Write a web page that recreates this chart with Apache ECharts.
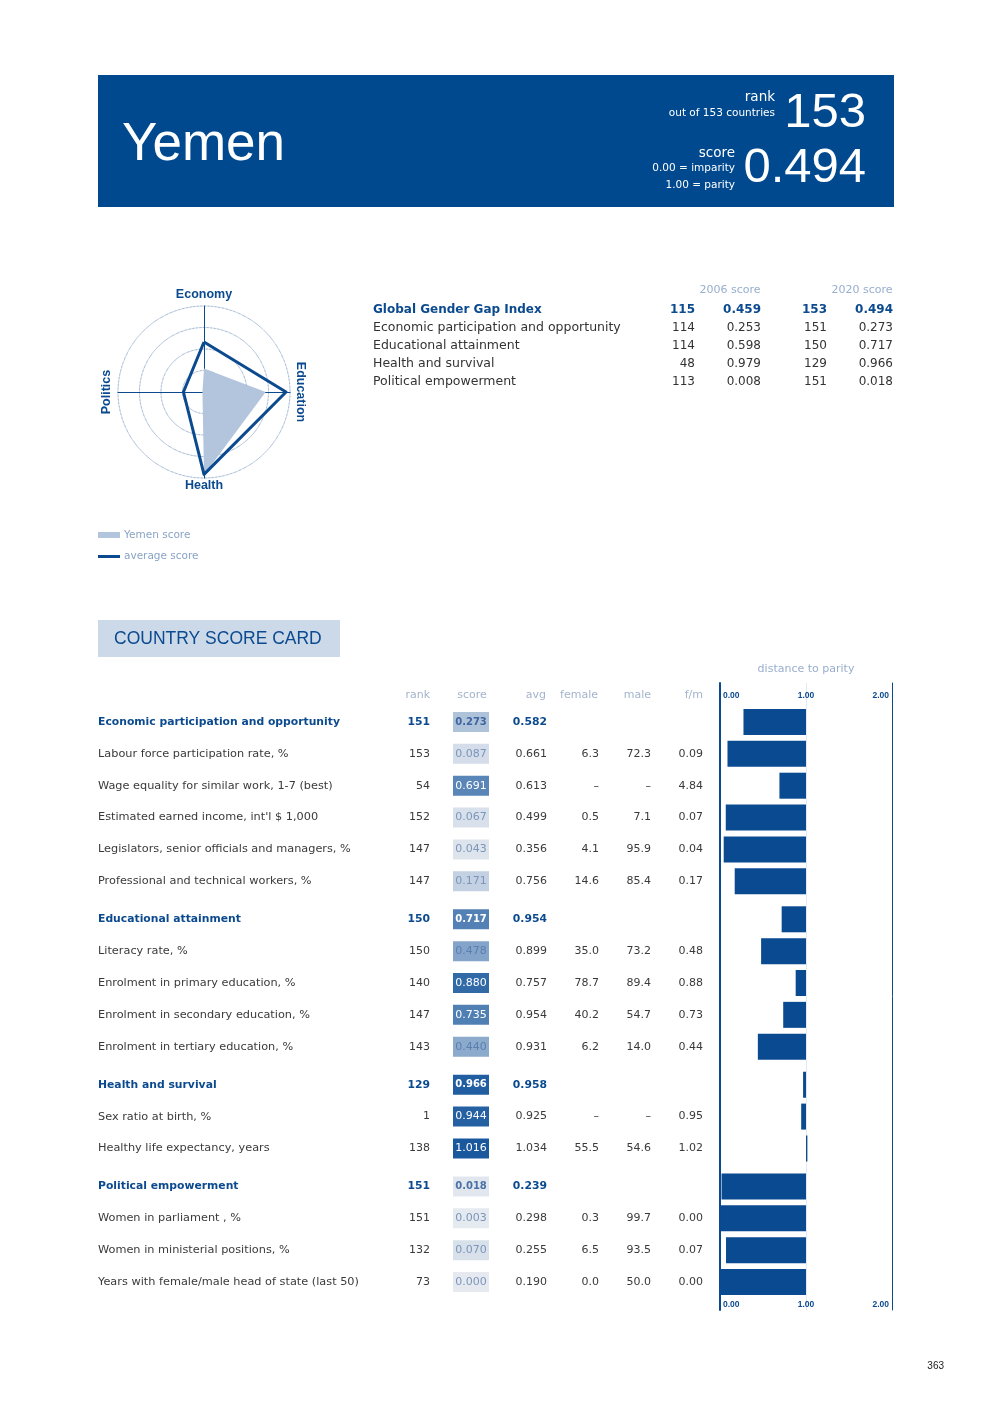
<!DOCTYPE html>
<html><head><meta charset="utf-8">
<script src="https://cdn.jsdelivr.net/npm/echarts@6/dist/echarts.min.js"></script>
<style>html,body{margin:0;padding:0;background:#fff}#c{width:992px;height:1403px}</style>
</head><body><div id="c"></div>
<script>
// ---- data ----
const countryName = 'Yemen';
const overallRank = '153';
const overallOutOf = 'out of 153 countries';
const overallScore = '0.494';

const summaryLabels = ['Global Gender Gap Index','Economic participation and opportunity','Educational attainment','Health and survival','Political empowerment'];
const summaryRank2006 = ['115','114','114','48','113'];
const summaryScore2006 = ['0.459','0.253','0.598','0.979','0.008'];
const summaryRank2020 = ['153','151','150','129','151'];
const summaryScore2020 = ['0.494','0.273','0.717','0.966','0.018'];

const radarAxes = ['Economy','Education','Health','Politics'];
const radarCountry = [0.273, 0.717, 0.966, 0.018];
const radarAverage = [0.582, 0.954, 0.958, 0.239];

const groupSizes = [6, 5, 3, 4];
const rowLabels = [
 'Economic participation and opportunity','Labour force participation rate, %','Wage equality for similar work, 1-7 (best)','Estimated earned income, int\'l $ 1,000','Legislators, senior officials and managers, %','Professional and technical workers, %',
 'Educational attainment','Literacy rate, %','Enrolment in primary education, %','Enrolment in secondary education, %','Enrolment in tertiary education, %',
 'Health and survival','Sex ratio at birth, %','Healthy life expectancy, years',
 'Political empowerment','Women in parliament , %','Women in ministerial positions, %','Years with female/male head of state (last 50)'];
const rowRanks = ['151','153','54','152','147','147','150','150','140','147','143','129','1','138','151','151','132','73'];
const rowScores = [0.273,0.087,0.691,0.067,0.043,0.171,0.717,0.478,0.880,0.735,0.440,0.966,0.944,1.016,0.018,0.003,0.070,0.000];
const rowAvgs = ['0.582','0.661','0.613','0.499','0.356','0.756','0.954','0.899','0.757','0.954','0.931','0.958','0.925','1.034','0.239','0.298','0.255','0.190'];
const rowFemale = ['','6.3','–','0.5','4.1','14.6','','35.0','78.7','40.2','6.2','','–','55.5','','0.3','6.5','0.0'];
const rowMale = ['','72.3','–','7.1','95.9','85.4','','73.2','89.4','54.7','14.0','','–','54.6','','99.7','93.5','50.0'];
const rowFm = ['','0.09','4.84','0.07','0.04','0.17','','0.48','0.88','0.73','0.44','','0.95','1.02','','0.00','0.07','0.00'];

// ---- style / layout ----
const BLUE = '#0b4a8f';
const FONT = '"Liberation Sans", Arial, sans-serif';
const WIDE = '"DejaVu Sans", "Liberation Sans", sans-serif';
const G = [];
function txt(x, y, text, o) {
  o = o || {};
  G.push({type:'text', x:x, y:y, rotation:o.rot||0, z:10,
    style:{text:text, fill:o.color||'#333', font:(o.weight||'normal')+' '+(o.size||12)+'px '+(o.font||WIDE),
      textAlign:o.align||'left', textVerticalAlign:'middle'}});
}
function rect(x,y,w,h,fill){ G.push({type:'rect', z:1, shape:{x:x,y:y,width:w,height:h}, style:{fill:fill}}); }

// header
rect(98,75,796,132,'#00498f');
txt(122,145,countryName,{color:'#fff',size:53,font:FONT});
txt(775,97,'rank',{color:'#fff',size:13.5,align:'right'});
txt(775,113,overallOutOf,{color:'#fff',size:10.5,align:'right'});
txt(866,113,overallRank,{color:'#fff',size:49,align:'right',font:FONT});
txt(735,153,'score',{color:'#fff',size:13.5,align:'right'});
txt(735,168,'0.00 = imparity',{color:'#fff',size:10.5,align:'right'});
txt(735,185,'1.00 = parity',{color:'#fff',size:10.5,align:'right'});
txt(866,168,overallScore,{color:'#fff',size:49,align:'right',font:FONT});

// radar axis names
const RN = {color:BLUE,size:12.5,weight:'bold',align:'center',font:FONT};
txt(204,295,radarAxes[0],RN);
txt(300,392,radarAxes[1],Object.assign({rot:-Math.PI/2},RN));
txt(204,486,radarAxes[2],RN);
txt(107,392,radarAxes[3],Object.assign({rot:Math.PI/2},RN));

// legend
rect(98,532,22,6,'#b3c5dc');
txt(124,535,countryName+' score',{color:'#8aa4c6',size:10.5});
rect(98,555,22,3,BLUE);
txt(124,556,'average score',{color:'#8aa4c6',size:10.5});

// summary table
txt(730,290,'2006 score',{color:'#98aece',size:11,align:'center'});
txt(862,290,'2020 score',{color:'#98aece',size:11,align:'center'});
summaryLabels.forEach((l,i)=>{
  const y = 310 + i*18;
  const o = i===0 ? {color:BLUE,size:12,weight:'bold'} : {color:'#333',size:12.5};
  const on = i===0 ? {color:BLUE,size:12,weight:'bold',align:'right'} : {color:'#333',size:12,align:'right'};
  txt(373,y,l,o);
  txt(695,y,summaryRank2006[i],on);
  txt(761,y,summaryScore2006[i],on);
  txt(827,y,summaryRank2020[i],on);
  txt(893,y,summaryScore2020[i],on);
});

// score card title
rect(98,620,242,37,'#ccd9e8');
txt(114,639,'COUNTRY SCORE CARD',{color:BLUE,size:17.5,font:FONT});
txt(806,669,'distance to parity',{color:'#98aece',size:11,align:'center'});

// column headers
const HC = {color:'#a3b4cc',size:11};
txt(430,695,'rank',Object.assign({align:'right'},HC));
txt(472,695,'score',Object.assign({align:'center'},HC));
txt(546,695,'avg',Object.assign({align:'right'},HC));
txt(598,695,'female',Object.assign({align:'right'},HC));
txt(651,695,'male',Object.assign({align:'right'},HC));
txt(703,695,'f/m',Object.assign({align:'right'},HC));

function mix(v){
  const a=[230,234,240], b=[26,88,158];
  const t=Math.max(0,Math.min(1,v));
  return 'rgb('+a.map((c,i)=>Math.round(c+(b[i]-c)*t)).join(',')+')';
}
const SP = 31.85, GAP = 6.2;
const headerIdx = [];
let acc = 0; groupSizes.forEach(n=>{headerIdx.push(acc); acc+=n;});
function groupOf(i){ let g=0; for(let k=0;k<headerIdx.length;k++) if(i>=headerIdx[k]) g=k; return g; }
function rowY(i){ return 722 + i*SP + groupOf(i)*GAP; }

rowLabels.forEach((l,i)=>{
  const y = rowY(i);
  const isH = headerIdx.indexOf(i)>=0;
  const o = isH ? {color:BLUE,size:10.8,weight:'bold'} : {color:'#3a3a3a',size:11.3};
  const on = isH ? {color:BLUE,size:10.8,weight:'bold',align:'right'} : {color:'#3a3a3a',size:11,align:'right'};
  txt(98,y,l,o);
  txt(430,y,rowRanks[i],on);
  const v = rowScores[i];
  rect(453,y-10,36,20,mix(v));
  const tc = v>0.55 ? '#fff' : (v<0.2 ? (isH?'#4a70a5':'#7b96bb') : (isH?'#3f66a0':'#5a7fb0'));
  txt(471,y,v.toFixed(3),{color:tc,size:isH?10:11,weight:isH?'bold':'normal',align:'center'});
  txt(547,y,rowAvgs[i],on);
  txt(599,y,rowFemale[i],on);
  txt(651,y,rowMale[i],on);
  txt(703,y,rowFm[i],on);
});
txt(944,1366,'363',{color:'#222',size:10,align:'right',font:FONT});

// ---- echarts option ----
const grids = [{left:720,width:172,top:683,height:627}];
const AL = {inside:true,color:BLUE,fontSize:8.5,fontWeight:'bold',fontFamily:FONT,alignMinLabel:'left',alignMaxLabel:'right',
     formatter:v=>v.toFixed(2),padding:[0,3,0,3]};
const xAxes = [
  {gridIndex:0,type:'value',min:0,max:2,interval:1,position:'top',axisLine:{show:false},axisTick:{show:false},
   splitLine:{show:true,lineStyle:{color:'#e3e9f1',width:1}},axisLabel:Object.assign({margin:8},AL)},
  {gridIndex:0,type:'value',min:0,max:2,interval:1,position:'bottom',axisLine:{show:false},axisTick:{show:false},splitLine:{show:false},
   axisLabel:Object.assign({margin:1},AL)}
];
const yAxes = [
  {gridIndex:0,type:'value',position:'left',axisLine:{show:true,onZero:false,lineStyle:{color:BLUE,width:2}},axisLabel:{show:false},axisTick:{show:false},splitLine:{show:false}},
  {gridIndex:0,type:'value',position:'right',axisLine:{show:true,onZero:false,lineStyle:{color:BLUE,width:1}},axisLabel:{show:false},axisTick:{show:false},splitLine:{show:false}}
];
const series = [
  {type:'radar',radarIndex:0,symbol:'none',z:2,
   data:[{value:[radarCountry[0],radarCountry[3],radarCountry[2],radarCountry[1]],lineStyle:{width:0,opacity:0},areaStyle:{color:'#b3c5dc',opacity:1}}]},
  {type:'radar',radarIndex:0,symbol:'none',z:3,
   data:[{value:[radarAverage[0],radarAverage[3],radarAverage[2],radarAverage[1]],lineStyle:{width:3,color:BLUE,join:'round'},areaStyle:{opacity:0}}]}
];
groupSizes.forEach((n,g)=>{
  const s = headerIdx[g];
  const gi = grids.length;
  grids.push({left:720,width:172,top:rowY(s)-SP/2,height:n*SP});
  const xi = xAxes.length, yi = yAxes.length;
  xAxes.push({gridIndex:gi,type:'value',min:0,max:2,show:false,splitLine:{show:false}});
  yAxes.push({gridIndex:gi,type:'category',data:rowLabels.slice(s,s+n),inverse:true,show:false});
  const vals = rowScores.slice(s,s+n);
  series.push({type:'bar',xAxisIndex:xi,yAxisIndex:yi,stack:'g'+g,barWidth:26,silent:true,
    itemStyle:{color:'rgba(0,0,0,0)'},data:vals.map(v=>Math.min(v,1))});
  series.push({type:'bar',xAxisIndex:xi,yAxisIndex:yi,stack:'g'+g,barWidth:26,silent:true,
    itemStyle:{color:'#0a4a90'},data:vals.map(v=>Math.abs(1-v))});
});

const chart = echarts.init(document.getElementById('c'),null,{renderer:'canvas'});
chart.setOption({
  animation:false,
  backgroundColor:'#fff',
  textStyle:{fontFamily:FONT},
  radar:[{center:[204,392],radius:86,startAngle:90,shape:'circle',splitNumber:4,
    indicator:[{name:radarAxes[0],max:1,min:0},{name:radarAxes[3],max:1,min:0},{name:radarAxes[2],max:1,min:0},{name:radarAxes[1],max:1,min:0}],
    axisName:{show:false},
    axisLine:{lineStyle:{color:BLUE,width:1}},
    splitLine:{lineStyle:{color:'#2a5a98',type:'dotted',width:0.7}},
    splitArea:{show:false}}],
  grid:grids, xAxis:xAxes, yAxis:yAxes, series:series,
  graphic:G
});
</script></body></html>
